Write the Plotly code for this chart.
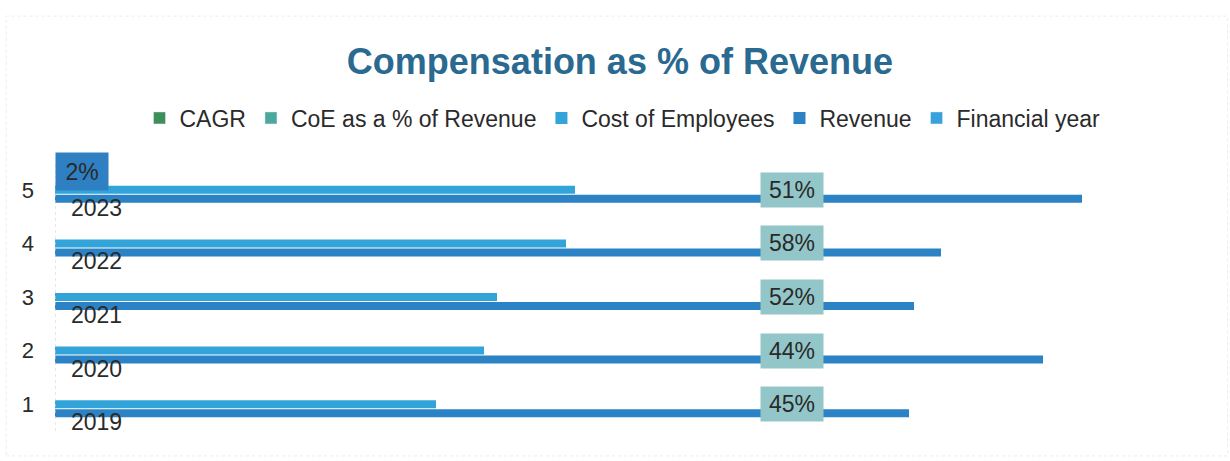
import plotly.graph_objects as go

# ---- data -------------------------------------------------------------
categories = [1, 2, 3, 4, 5]
financial_years = [2019, 2020, 2021, 2022, 2023]
revenue = [854, 988, 859, 886, 1027]
cost_of_employees = [381, 429, 442, 511, 520]
coe_pct_of_revenue = [45, 44, 52, 58, 51]
cagr_pct = [None, None, None, None, 2]

# ---- styling ----------------------------------------------------------
FONT = "Liberation Sans, Arial, sans-serif"
TEXT = "#2a2a2a"
C_CAGR = "#3e8e5a"
C_COE = "#4aa89c"
C_COST = "#33a4da"
C_REV = "#2b82c4"
C_FY = "#36a2dc"
LABEL_BOX = "#93c6c8"
CAGR_BOX = "#2f80c2"

SLOT = 0.168          # distance between neighbouring series inside a cluster
BAR_W = 0.15          # bar thickness in category units
COE_LABEL_X = 737     # horizontal anchor of the CoE % labels (axis units)
FY_LABEL_X = 41
CAGR_LABEL_X = 27

fig = go.Figure()

# legend-only entries for the series that are shown as labels
fig.add_trace(go.Bar(name="CAGR", x=[None], y=[None], orientation="h",
                     marker_color=C_CAGR))
fig.add_trace(go.Bar(name="CoE as a % of Revenue", x=[None], y=[None],
                     orientation="h", marker_color=C_COE))

fig.add_trace(go.Bar(
    name="Cost of Employees", orientation="h",
    x=cost_of_employees, y=[c for c in categories],
    width=BAR_W, marker_color=C_COST, marker_line_width=0,
))
fig.add_trace(go.Bar(
    name="Revenue", orientation="h",
    x=revenue, y=[c - SLOT for c in categories],
    width=BAR_W, marker_color=C_REV, marker_line_width=0,
))
fig.add_trace(go.Bar(name="Financial year", x=[None], y=[None],
                     orientation="h", marker_color=C_FY))

annotations = []
for c, pct in zip(categories, coe_pct_of_revenue):
    annotations.append(dict(
        x=COE_LABEL_X, y=c, xref="x", yref="y", text=f"{pct}%",
        showarrow=False, bgcolor=LABEL_BOX, width=60, height=32,
        font=dict(family=FONT, size=23, color=TEXT),
        xanchor="center", yanchor="middle",
    ))
for c, fy in zip(categories, financial_years):
    annotations.append(dict(
        x=FY_LABEL_X, y=c - 2 * SLOT, xref="x", yref="y", text=str(fy),
        showarrow=False, font=dict(family=FONT, size=23, color=TEXT),
        xanchor="center", yanchor="middle",
    ))
for c, g in zip(categories, cagr_pct):
    if g is None:
        continue
    annotations.append(dict(
        x=CAGR_LABEL_X, y=c + 2 * SLOT, xref="x", yref="y", text=f"{g}%",
        showarrow=False, bgcolor=CAGR_BOX, width=50, height=35,
        font=dict(family=FONT, size=23, color=TEXT),
        xanchor="center", yanchor="middle",
    ))

shapes = [
    # dotted category axis line
    dict(type="line", xref="x", yref="paper", x0=0, x1=0, y0=0, y1=1,
         line=dict(color="#cfcfcf", width=1, dash="dot")),
    # faint chart frame
    dict(type="rect", xref="paper", yref="paper",
         x0=-0.043, x1=1.033, y0=-0.093, y1=1.548,
         line=dict(color="#ececec", width=1, dash="dot"), layer="below"),
]

fig.update_layout(
    width=1230, height=461,
    margin=dict(l=55, r=40, t=163, b=30),
    paper_bgcolor="white", plot_bgcolor="white",
    barmode="overlay",
    title=dict(
        text="<b>Compensation as % of Revenue</b>",
        x=0.504, xanchor="center", y=1 - 61 / 461, yanchor="middle",
        font=dict(family=FONT, size=36, color="#2a6a90"),
    ),
    legend=dict(
        orientation="h", x=0.5, xanchor="center", y=1.168, yanchor="middle",
        font=dict(family=FONT, size=23, color=TEXT),
        traceorder="normal", itemclick=False,
    ),
    xaxis=dict(range=[0, 1135], visible=False, fixedrange=True),
    yaxis=dict(
        range=[0.5, 5.5], tickvals=categories,
        ticktext=[str(c) for c in categories],
        showgrid=False, zeroline=False, showline=False,
        ticks="", ticklabelstandoff=20,
        tickfont=dict(family=FONT, size=22, color=TEXT),
    ),
    annotations=annotations,
    shapes=shapes,
    showlegend=True,
)

fig.write_html("out.html")
